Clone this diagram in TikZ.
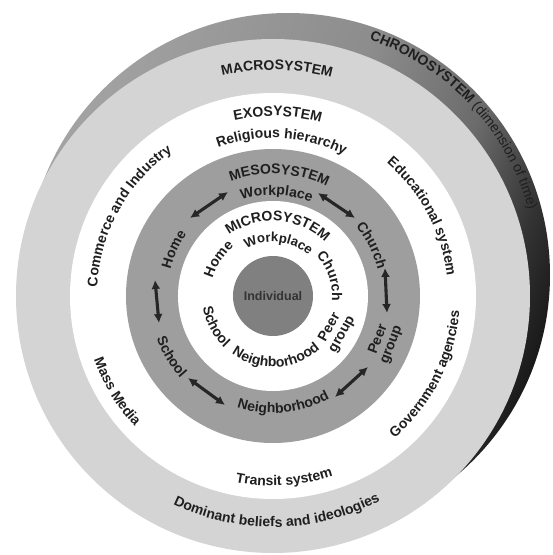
\documentclass[tikz,border=0pt]{standalone}
\usepackage{fontspec}
\setmainfont{Liberation Sans}
\usetikzlibrary{decorations.text,arrows.meta}
\pgfdeclarehorizontalshading{chrono}{100bp}{color(0bp)=(black!36); color(25bp)=(black!36); color(50bp)=(black!45); color(62bp)=(black!58); color(70bp)=(black!80); color(75bp)=(black!90); color(100bp)=(black!90)}
\newcommand\lblfont{\fontsize{14}{16}\selectfont\bfseries\color{black!88}}
\newcommand\lblsmall{\fontsize{13.2}{16}\selectfont\bfseries\color{black!88}}
\newcommand\lblthin{\fontsize{14}{16}\selectfont\mdseries\color{black!88}}
% clockwise text: letters stand outward from the baseline circle
\newcommand\cwtext[5]{%
  \path[decorate,decoration={text along path,text align=center,text={|\lblfont|#5}}]
    (#1) ++({#3+#4}:#2) arc[start angle={#3+#4},end angle={#3-#4},radius=#2];}
% counter-clockwise text: letters stand inward from the baseline circle
\newcommand\ccwtext[5]{%
  \path[decorate,decoration={text along path,text align=center,text={|\lblfont|#5}}]
    (#1) ++({#3-#4}:#2) arc[start angle={#3-#4},end angle={#3+#4},radius=#2];}
\tikzset{
  medarrow/.style={line width=3.1pt, draw=black!85,
    {Latex[length=9pt,width=9pt]}-{Latex[length=9pt,width=9pt]}},
  twoline/.style={align=center, inner sep=0pt, text=black!88,
    font=\fontsize{14}{14}\selectfont\bfseries}
}
\begin{document}
\begin{tikzpicture}[x=1pt,y=1pt]
\useasboundingbox (-273,-259) rectangle (280,296);
\fill[white] (-273,-259) rectangle (280,296);
\coordinate (O) at (0,0);
\coordinate (T) at (15,21);
% rings
\shade[shading=chrono, shading angle=-20] (T) circle[radius=262];
\fill[black!17] (O) circle[radius=257];
\fill[white] (O) circle[radius=203];
\fill[black!38] (O) circle[radius=147];
\fill[white] (O) circle[radius=95];
\node[circle, fill=black!50, minimum size=80pt, inner sep=0pt,
      font=\fontsize{12.5}{14}\selectfont\bfseries, text=black!80] (ind) at (O) {Individual};
% chronosystem
\path[decorate,decoration={text along path,text align=center,
  text={|\lblfont|CHRONOSYSTEM |\lblthin|(dimension of time)}}]
  (T) ++(88:249) arc[start angle=88,end angle=-2,radius=249];
% macrosystem
\cwtext{O}{226}{89}{25}{MACROSYSTEM}
\ccwtext{O}{231}{-89}{40}{Dominant beliefs and ideologies}
% exosystem
\cwtext{O}{180}{88.5}{25}{EXOSYSTEM}
\cwtext{O}{158}{86.8}{35}{Religious hierarchy}
\cwtext{O}{176}{151}{40}{Commerce and Industry}
\cwtext{O}{175}{28}{35}{Educational system}
\ccwtext{O}{187}{-27}{35}{Government agencies}
\ccwtext{O}{190}{211.5}{25}{Mass Media}
\ccwtext{O}{190}{-86.5}{25}{Transit system}
% mesosystem
\cwtext{O}{122}{87}{35}{MESOSYSTEM}
\cwtext{O}{101}{88}{30}{Workplace}
\cwtext{O}{108}{27}{25}{Church}
\cwtext{O}{106}{155}{25}{Home}
\ccwtext{O}{124}{211}{25}{School}
\ccwtext{O}{117}{-84.5}{35}{Neighborhood}
\node[twoline, rotate=69] (peerM) at (112,-46) {Peer\\group};
% microsystem
\cwtext{O}{75}{86}{55}{MICROSYSTEM}
\path[decorate,decoration={text along path,text align=center,text={|\lblsmall|Workplace}}]
  (O) ++(140:54) arc[start angle=140,end angle=28,radius=54];
\cwtext{O}{63}{146}{30}{Home}
\cwtext{O}{59}{19}{35}{Church}
\ccwtext{O}{71}{208}{30}{School}
\ccwtext{O}{71}{-87}{55}{Neighborhood}
\node[twoline, rotate=61] (peerm) at (63,-35) {Peer\\group};
% mesosystem arrows
\coordinate (hw1) at (-83,78);  \coordinate (hw2) at (-45,104);
\coordinate (wc1) at (45,103);  \coordinate (wc2) at (82,78);
\coordinate (cp1) at (112,28);  \coordinate (cp2) at (114,-17);
\coordinate (hs1) at (-118,16); \coordinate (hs2) at (-114,-27);
\coordinate (sn1) at (-85,-82); \coordinate (sn2) at (-48,-109);
\coordinate (np1) at (62,-101); \coordinate (np2) at (95,-71);
\draw[medarrow] (hw1) -- (hw2);
\draw[medarrow] (wc1) -- (wc2);
\draw[medarrow] (cp1) -- (cp2);
\draw[medarrow] (hs1) -- (hs2);
\draw[medarrow] (sn1) -- (sn2);
\draw[medarrow] (np1) -- (np2);
\end{tikzpicture}
\end{document}
